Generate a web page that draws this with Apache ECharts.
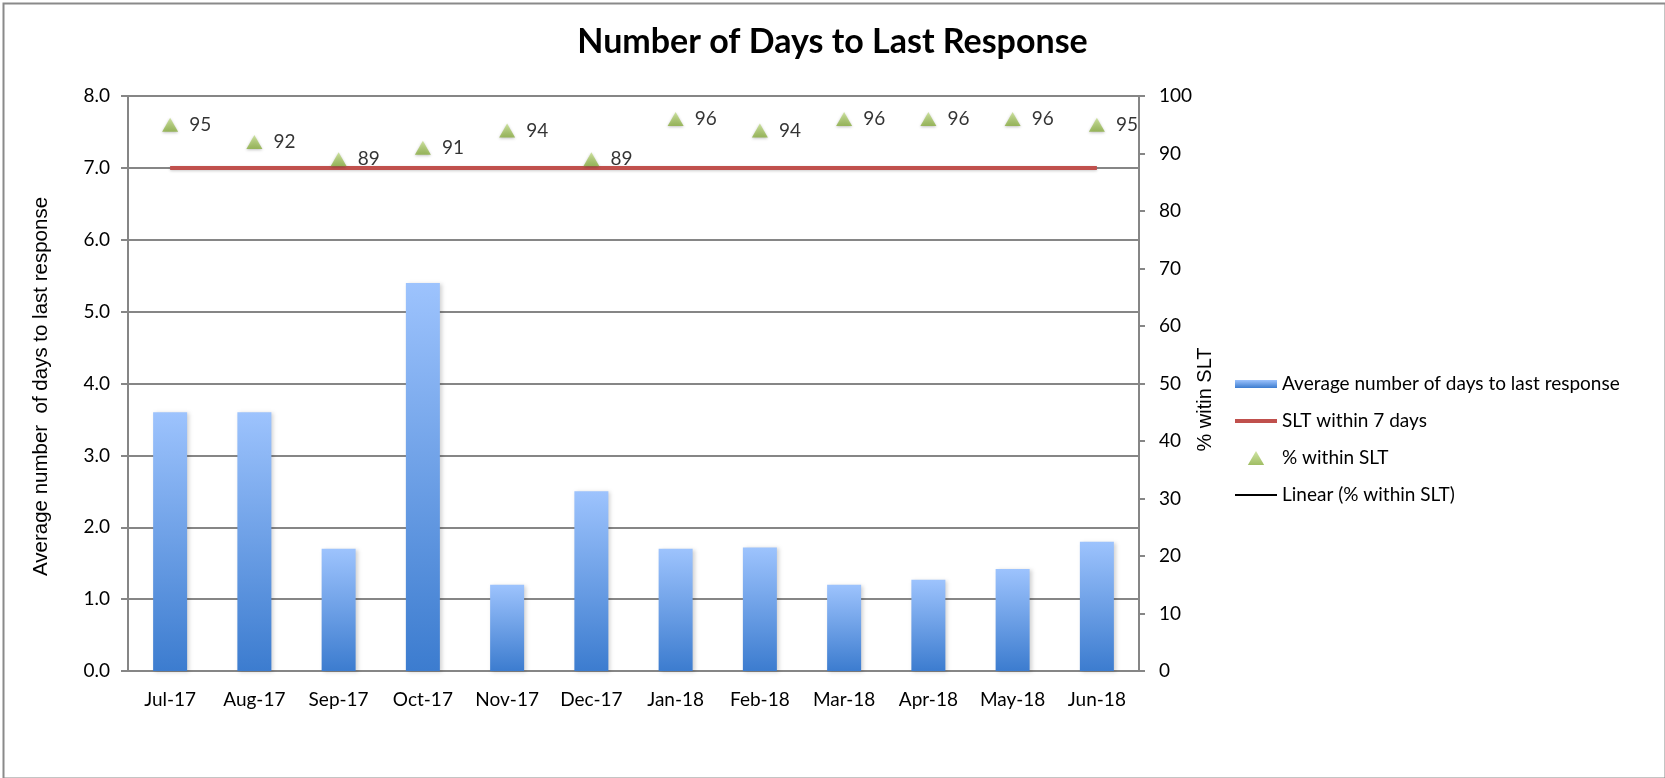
<!DOCTYPE html>
<html>
<head>
<meta charset="utf-8">
<script src="https://cdn.jsdelivr.net/npm/echarts@6/dist/echarts.min.js"></script>
<style>
  html, body { margin: 0; padding: 0; background: #fff; }
  #chart { width: 1665px; height: 778px; }
</style>
</head>
<body>
<div id="chart"></div>
<script>
const months = ["Jul-17", "Aug-17", "Sep-17", "Oct-17", "Nov-17", "Dec-17", "Jan-18", "Feb-18", "Mar-18", "Apr-18", "May-18", "Jun-18"];
const avgDays = [3.6, 3.6, 1.7, 5.4, 1.2, 2.5, 1.7, 1.72, 1.2, 1.27, 1.42, 1.8];
const sltTarget = [7, 7, 7, 7, 7, 7, 7, 7, 7, 7, 7, 7];
const pctWithin = [95, 92, 89, 91, 94, 89, 96, 94, 96, 96, 96, 95];

const gray = "#868686";
const textFont = "Lato";
const chart = echarts.init(document.getElementById("chart"), null, { renderer: "canvas" });

chart.setOption({
  animation: false,
  backgroundColor: "#fff",
  textStyle: { fontFamily: textFont, color: "#000" },
  title: {
    text: "Number of Days to Last Response",
    left: "center",
    top: 20,
    textStyle: { fontFamily: textFont, fontWeight: "bold", fontSize: 34, color: "#000" },
  },
  graphic: [{
    type: "rect",
    left: 1,
    top: 1,
    shape: { width: 1662, height: 775 },
    style: { fill: "none", stroke: "#8a8a8a", lineWidth: 2 },
    silent: true,
  }],
  grid: { left: 128, right: 526, top: 96, bottom: 107 },
  legend: {
    orient: "vertical",
    left: 1230,
    top: 369,
    itemWidth: 42,
    itemHeight: 14,
    itemGap: 17,
    itemStyle: { borderWidth: 0 },
    textStyle: { fontFamily: textFont, fontSize: 19, lineHeight: 20, color: "#000" },
    data: [
      { name: "Average number of days to last response", icon: "path://M0,0h42v8h-42z" },
      { name: "SLT within 7 days", icon: "path://M0,0h42v4h-42z" },
      { name: "% within SLT", icon: "path://M7,0L14,12L0,12Z" },
      { name: "Linear (% within SLT)", icon: "path://M0,0h42v2h-42z" },
    ],
  },
  xAxis: {
    type: "category",
    data: months,
    axisTick: { show: false },
    axisLine: { lineStyle: { color: gray, width: 2 } },
    axisLabel: { color: "#000", fontSize: 19, margin: 19, interval: 0, fontFamily: textFont },
  },
  yAxis: [
    {
      type: "value",
      min: 0,
      max: 8,
      interval: 1,
      name: "Average number  of days to last response",
      nameLocation: "middle",
      nameRotate: 90,
      nameGap: 76,
      nameTextStyle: { fontFamily: "Liberation Sans", fontSize: 20.5, color: "#000", padding: [0, 6, 0, 0] },
      axisLine: { show: true, lineStyle: { color: gray, width: 2 } },
      axisTick: { show: true, length: 7, lineStyle: { color: gray, width: 2 } },
      axisLabel: { color: "#000", fontSize: 19, margin: 18, fontFamily: textFont, formatter: (v) => v.toFixed(1) },
      splitLine: { lineStyle: { color: gray, width: 2 } },
    },
    {
      type: "value",
      min: 0,
      max: 100,
      interval: 10,
      position: "right",
      name: "% witin SLT",
      nameLocation: "middle",
      nameRotate: 90,
      nameGap: 56,
      nameMoveOverlap: false,
      nameTextStyle: { fontFamily: "Liberation Sans", fontSize: 20, color: "#000", padding: [0, 32, 0, 0] },
      axisLine: { show: true, lineStyle: { color: gray, width: 2 } },
      axisTick: { show: true, length: 6, lineStyle: { color: gray, width: 2 } },
      axisLabel: { color: "#000", fontSize: 19, margin: 20, fontFamily: textFont },
      splitLine: { show: false },
    },
  ],
  series: [
    {
      name: "Average number of days to last response",
      type: "bar",
      data: avgDays,
      barWidth: 34,
      itemStyle: {
        color: new echarts.graphic.LinearGradient(0, 0, 0, 1, [
          { offset: 0, color: "#9dc3fd" },
          { offset: 1, color: "#3c7ccf" },
        ]),
        shadowColor: "rgba(0,0,0,0.18)",
        shadowBlur: 4,
        shadowOffsetX: 2,
        shadowOffsetY: 1,
      },
      z: 2,
    },
    {
      name: "SLT within 7 days",
      type: "line",
      data: sltTarget,
      symbol: "none",
      itemStyle: { color: "#c0504d" },
      lineStyle: { color: "#c0504d", width: 4, shadowColor: "rgba(0,0,0,0.2)", shadowBlur: 3, shadowOffsetY: 1 },
      z: 3,
    },
    {
      name: "% within SLT",
      type: "scatter",
      yAxisIndex: 1,
      data: pctWithin,
      symbol: "triangle",
      symbolSize: [16, 14],
      itemStyle: {
        color: new echarts.graphic.LinearGradient(0, 0, 0, 1, [
          { offset: 0, color: "#c4de8c" },
          { offset: 1, color: "#88ad3d" },
        ]),
        shadowColor: "rgba(0,0,0,0.3)",
        shadowBlur: 3,
        shadowOffsetY: 1,
      },
      label: {
        show: true,
        position: "right",
        distance: 11,
        color: "#000",
        fontSize: 19,
        fontFamily: textFont,
      },
      z: 4,
    },
    {
      name: "Linear (% within SLT)",
      type: "line",
      yAxisIndex: 1,
      data: [],
      symbol: "none",
      itemStyle: { color: "#000" },
      lineStyle: { color: "#000", width: 2 },
    },
  ],
});
</script>
</body>
</html>
